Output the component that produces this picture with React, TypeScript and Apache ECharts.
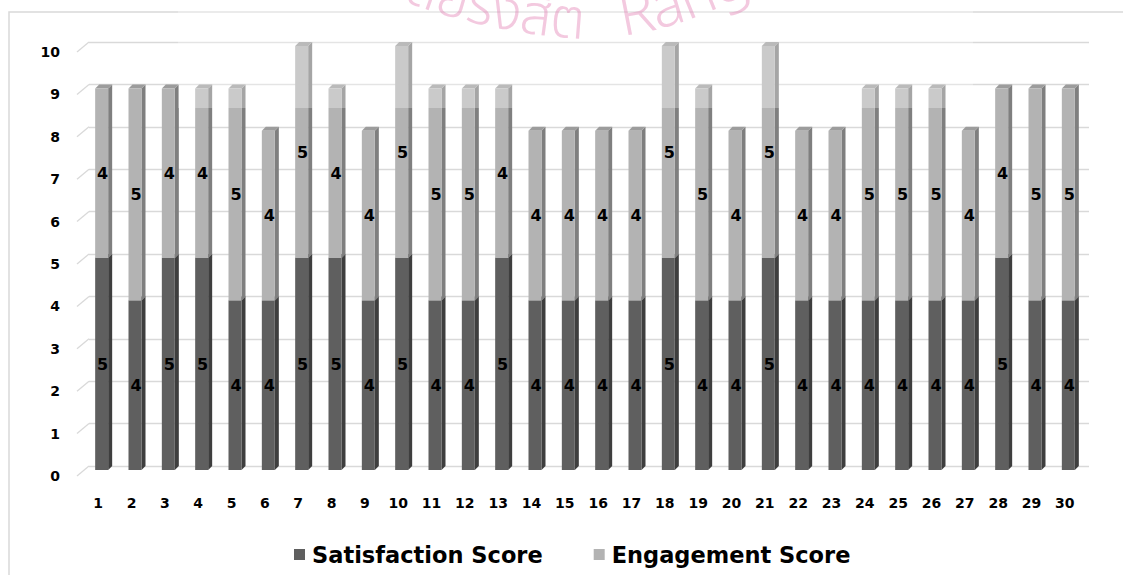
import React, { useEffect, useRef } from "react";
import * as echarts from "echarts";

// Respondent numbers along the x axis
const respondents = [
  "1", "2", "3", "4", "5", "6", "7", "8", "9", "10",
  "11", "12", "13", "14", "15", "16", "17", "18", "19", "20",
  "21", "22", "23", "24", "25", "26", "27", "28", "29", "30",
];

// Scores per respondent
const satisfaction = [5, 4, 5, 5, 4, 4, 5, 5, 4, 5, 4, 4, 5, 4, 4, 4, 4, 5, 4, 4, 5, 4, 4, 4, 4, 4, 4, 5, 4, 4];
const engagement = [4, 5, 4, 4, 5, 4, 5, 4, 4, 5, 5, 5, 4, 4, 4, 4, 4, 5, 5, 4, 5, 4, 4, 5, 5, 5, 4, 4, 5, 5];

// Value-axis ticks
const yTicks = [0, 1, 2, 3, 4, 5, 6, 7, 8, 9, 10];

// Watermark wording
const watermarkThai = "มหาวิทยาลัยรังสิต";
const watermarkEn = "Rangsit University";

const FONT = "'DejaVu Sans', Lato, sans-serif";
const WM_FONT_TH = "300 56px 'Noto Sans Thai', 'Noto Sans', sans-serif";
const WM_FONT_EN = "300 60px 'Noto Sans', sans-serif";
const WM_FILL = "rgba(226,120,176,0.4)";

// 3D column geometry (px)
const HALF_W = 6.5;
const DX = 4;
const DY = 4;

type Shades = { front: string; side: string; top: string };

const darkShades: Shades = { front: "#5f5f5f", side: "#3e3e3e", top: "#505050" };
const lightShades: Shades = { front: "#b3b3b3", side: "#7f7f7f", top: "#9c9c9c" };

function columnRenderer(shades: Shades) {
  return (params: any, api: any) => {
    const idx = api.value(0);
    const base = api.value(1);
    const end = api.value(2);
    const [cx, yEnd] = api.coord([idx, end]);
    const [, yBase] = api.coord([idx, base]);
    // back face sits on the back wall; the front face is pushed down-left
    const x0 = cx - HALF_W - DX;
    const x1 = cx + HALF_W - DX;
    const yt = yEnd + DY;
    const yb = yBase + DY;
    return {
      type: "group",
      children: [
        {
          type: "polygon",
          shape: { points: [[x1, yt], [x1 + DX, yt - DY], [x1 + DX, yb - DY], [x1, yb]] },
          style: { fill: shades.side },
        },
        {
          type: "polygon",
          shape: { points: [[x0, yt], [x0 + DX, yt - DY], [x1 + DX, yt - DY], [x1, yt]] },
          style: { fill: shades.top },
        },
        {
          type: "rect",
          shape: { x: x0, y: yt, width: x1 - x0, height: yb - yt },
          style: { fill: shades.front },
        },
        {
          type: "text",
          x: (x0 + x1) / 2 + 1,
          y: (yt + yb) / 2,
          style: {
            text: String(end - base),
            align: "center",
            verticalAlign: "middle",
            fill: "#000",
            font: `bold 16px ${FONT}`,
          },
          z2: 10,
        },
      ],
    };
  };
}

// Split a string into grapheme clusters so Thai marks stay on their base letter
function clusters(s: string): string[] {
  const Seg = (Intl as any).Segmenter;
  if (Seg) {
    return Array.from(new Seg("th", { granularity: "grapheme" }).segment(s), (x: any) => x.segment);
  }
  return s.match(/.[\u0E31\u0E34-\u0E3A\u0E47-\u0E4E]*/gu) || [];
}

// Lay a string along a curved baseline, one text element per cluster
function arcText(
  text: string,
  font: string,
  startX: number,
  startY: number,
  startAngle: number,
  radius: number,
  dir: 1 | -1
) {
  const ctx = document.createElement("canvas").getContext("2d")!;
  ctx.font = font;
  const parts = clusters(text);
  const order = dir === 1 ? parts : parts.slice().reverse();
  let x = startX;
  let y = startY;
  let a = startAngle;
  const out: any[] = [];
  for (const ch of order) {
    const w = ctx.measureText(ch).width;
    const dTheta = (w / radius) * dir;
    const mid = a + dTheta / 2;
    out.push({
      type: "text",
      x,
      y,
      rotation: mid,
      style: {
        text: ch,
        align: dir === 1 ? "left" : "right",
        verticalAlign: "bottom",
        fill: WM_FILL,
        font,
      },
      z: 101,
      silent: true,
    });
    x += dir * w * Math.cos(mid);
    y -= dir * w * Math.sin(mid);
    a += dTheta;
  }
  return out;
}

export default function App() {
  const ref = useRef<HTMLDivElement>(null);

  useEffect(() => {
    if (!ref.current) return;
    const chart = echarts.init(ref.current, undefined, { renderer: "svg" });

    const satData = satisfaction.map((v, i) => [i, 0, v]);
    const engData = engagement.map((v, i) => [i, satisfaction[i], satisfaction[i] + v]);
    const stubData = yTicks.map((t) => [0, t]);

    chart.setOption({
      animation: false,
      backgroundColor: "#fff",
      grid: { left: 89, right: 34, top: 42, bottom: 109, containLabel: false },
      legend: {
        data: ["Satisfaction Score", "Engagement Score"],
        left: 289,
        top: 538,
        icon: "rect",
        itemWidth: 11,
        itemHeight: 11,
        itemGap: 51,
        textStyle: { fontSize: 22.5, fontWeight: "bold", fontFamily: FONT, color: "#000", padding: [0, 0, 0, 2] },
      },
      xAxis: {
        type: "category",
        data: respondents,
        axisLine: { show: false },
        axisTick: { show: false },
        axisLabel: {
          color: "#000",
          fontSize: 14,
          fontWeight: "bold",
          fontFamily: FONT,
          margin: 30,
          padding: [0, 15, 0, 0],
          interval: 0,
        },
      },
      yAxis: {
        type: "value",
        min: 0,
        max: 10,
        interval: 1,
        axisLine: { show: false },
        axisTick: { show: false },
        splitLine: { lineStyle: { color: "#d9d9d9", width: 1.3 } },
        axisLabel: {
          color: "#000",
          fontSize: 14,
          fontWeight: "bold",
          fontFamily: FONT,
          margin: 29,
          verticalAlign: "top",
          lineHeight: 14,
          padding: [3, 0, 0, 0],
        },
      },
      series: [
        {
          name: "stubs",
          type: "custom",
          silent: true,
          data: stubData,
          encode: { x: 0, y: 1 },
          renderItem: (params: any, api: any) => {
            const [, y] = api.coord([0, api.value(1)]);
            const x = params.coordSys.x;
            return {
              type: "line",
              shape: { x1: x - 12, y1: y + 10, x2: x, y2: y },
              style: { stroke: "#d9d9d9", lineWidth: 1.3 },
            };
          },
        },
        {
          name: "Satisfaction Score",
          type: "custom",
          data: satData,
          encode: { x: 0, y: 2 },
          itemStyle: { color: darkShades.front },
          renderItem: columnRenderer(darkShades),
        },
        {
          name: "Engagement Score",
          type: "custom",
          data: engData,
          encode: { x: 0, y: 2 },
          itemStyle: { color: lightShades.front },
          renderItem: columnRenderer(lightShades),
        },
      ],
      graphic: [
        {
          type: "rect",
          shape: { x: 9, y: 12, width: 1300, height: 800 },
          style: { fill: "none", stroke: "#d9d9d9", lineWidth: 1.5 },
          z: -1,
          silent: true,
        },
        {
          type: "rect",
          shape: { x: 178, y: 0, width: 795, height: 108 },
          style: { fill: "rgba(255,255,255,0.3)" },
          z: 100,
          silent: true,
        },
        ...arcText(watermarkThai, WM_FONT_TH, 583, 50, -0.05, 600, -1),
        ...arcText(watermarkEn, WM_FONT_EN, 624, 43, 0.14, 350, 1),
      ],
    });

    return () => chart.dispose();
  }, []);

  return (
    <div
      ref={ref}
      style={{ position: "fixed", left: 0, top: 0, width: 1123, height: 575 }}
    />
  );
}
